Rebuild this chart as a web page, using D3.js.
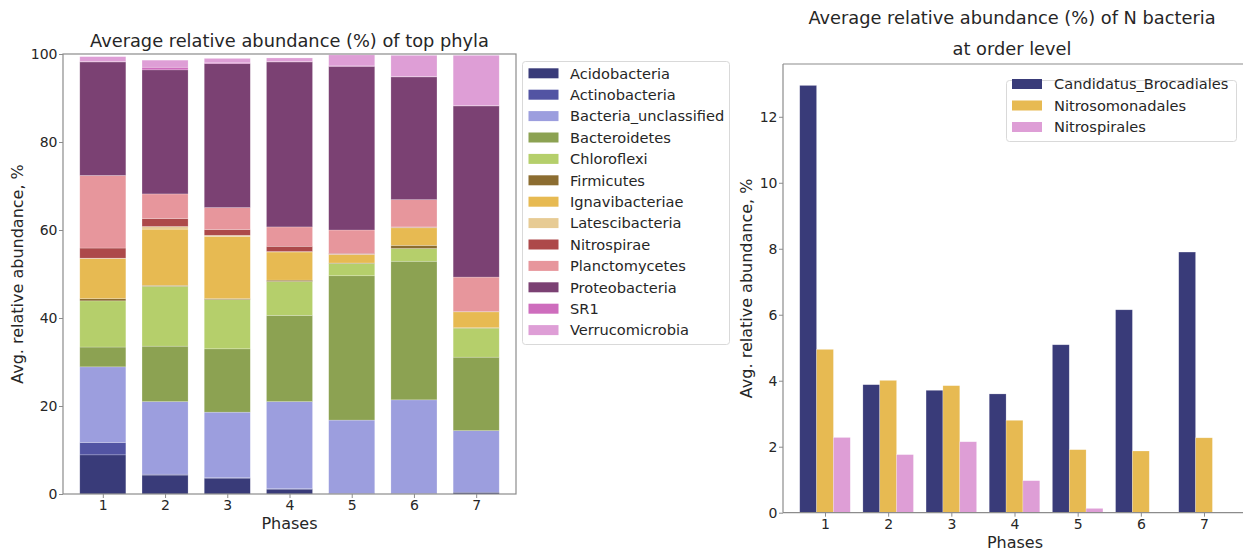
<!DOCTYPE html>
<html>
<head>
<meta charset="utf-8">
<script src="https://cdn.jsdelivr.net/npm/d3@7"></script>
<style>
  html, body { margin: 0; padding: 0; background: #fff; }
  svg { display: block; font-family: "DejaVu Sans", sans-serif; }
</style>
</head>
<body>
<svg id="fig" width="1243" height="554"></svg>
<script>
// ---- Phyla composition per phase (%), stacked in this order ----
const phases = [1, 2, 3, 4, 5, 6, 7];
const phyla = ["Acidobacteria", "Actinobacteria", "Bacteria_unclassified", "Bacteroidetes",
  "Chloroflexi", "Firmicutes", "Ignavibacteriae", "Latescibacteria", "Nitrospirae",
  "Planctomycetes", "Proteobacteria", "SR1", "Verrucomicrobia"];
const phylaColors = ["#393b79", "#5254a3", "#9c9ede", "#8ca252", "#b5cf6b", "#8c6d31",
  "#e7ba52", "#e7cb94", "#ad494a", "#e7969c", "#7b4173", "#ce6dbd", "#de9ed6"];
const acidobacteria        = [8.9, 4.3, 3.6, 1.1, 0.1, 0.1, 0.4];
const actinobacteria       = [2.8, 0.2, 0.1, 0.1, 0.0, 0.0, 0.0];
const bacteriaUnclassified = [17.2, 16.5, 14.9, 19.8, 16.7, 21.3, 14.0];
const bacteroidetes        = [4.5, 12.6, 14.4, 19.6, 32.8, 31.5, 16.7];
const chloroflexi          = [10.5, 13.6, 11.2, 7.7, 2.8, 2.9, 6.6];
const firmicutes           = [0.5, 0.2, 0.2, 0.3, 0.1, 0.7, 0.1];
const ignavibacteriae      = [9.1, 12.8, 14.1, 6.4, 1.9, 4.0, 3.6];
const latescibacteria      = [0.1, 0.6, 0.3, 0.1, 0.1, 0.1, 0.0];
const nitrospirae          = [2.3, 1.8, 1.3, 1.2, 0.2, 0.1, 0.1];
const planctomycetes       = [16.5, 5.6, 5.0, 4.4, 5.3, 6.2, 7.8];
const proteobacteria       = [25.8, 28.2, 32.7, 37.5, 37.2, 27.9, 38.9];
const sr1                  = [0.1, 0.6, 0.2, 0.1, 0.1, 0.1, 0.1];
const verrucomicrobia      = [1.1, 1.6, 1.0, 0.8, 2.5, 4.8, 11.4];
const phylaSeries = [acidobacteria, actinobacteria, bacteriaUnclassified, bacteroidetes,
  chloroflexi, firmicutes, ignavibacteriae, latescibacteria, nitrospirae, planctomycetes,
  proteobacteria, sr1, verrucomicrobia];
const leftTicks = [0, 20, 40, 60, 80, 100];

// ---- N-cycle orders per phase (%) ----
const orders = ["Candidatus_Brocadiales", "Nitrosomonadales", "Nitrospirales"];
const orderColors = ["#393b79", "#e7ba52", "#de9ed6"];
const brocadiales      = [12.95, 3.88, 3.71, 3.60, 5.09, 6.15, 7.90];
const nitrosomonadales = [4.95, 4.01, 3.85, 2.80, 1.91, 1.87, 2.27];
const nitrospirales    = [2.28, 1.76, 2.15, 0.97, 0.13, 0.0, 0.0];
const orderSeries = [brocadiales, nitrosomonadales, nitrospirales];
const rightTicks = [0, 2, 4, 6, 8, 10, 12];

const svg = d3.select("#fig");
const textColor = "#262626";
const spineColor = "#8c8c8c";
const fontTick = 14, fontLegend = 14.6, fontTitle = 17.8, fontLabel = 16;

function styleAxis(g) {
  g.selectAll(".domain").remove();
  g.selectAll(".tick line").attr("stroke", spineColor).attr("stroke-width", 1);
  g.selectAll(".tick text").attr("fill", textColor).attr("font-size", fontTick)
    .attr("font-family", "DejaVu Sans, sans-serif");
}

// ================= Left: stacked bars =================
(function () {
  const L = 63, R = 516, T = 54, B = 494;
  const x = d3.scaleLinear().domain([0.36, 7.64]).range([L, R]);
  const y = d3.scaleLinear().domain([0, 100]).range([B, T]);
  const bw = x(1.74) - x(1);

  const rows = phases.map((p, i) => {
    const r = { phase: p };
    phyla.forEach((name, k) => r[name] = phylaSeries[k][i]);
    return r;
  });
  const stacked = d3.stack().keys(phyla)(rows);

  const g = svg.append("g");
  g.selectAll("g.layer").data(stacked).join("g")
    .attr("fill", (d, k) => phylaColors[k])
    .selectAll("rect").data(d => d).join("rect")
    .attr("x", d => x(d.data.phase) - bw / 2)
    .attr("width", bw)
    .attr("y", d => y(d[1]))
    .attr("height", d => Math.max(0, y(d[0]) - y(d[1])))
    .attr("stroke", "#ffffff").attr("stroke-opacity", 0.35).attr("stroke-width", 0.6);

  // frame
  g.append("rect").attr("x", L).attr("y", T).attr("width", R - L).attr("height", B - T)
    .attr("fill", "none").attr("stroke", spineColor).attr("stroke-width", 1.2);

  const ax = g.append("g").attr("transform", `translate(0,${B})`)
    .call(d3.axisBottom(x).tickValues(phases).tickSize(4).tickPadding(2).tickFormat(d3.format("d")));
  styleAxis(ax);
  const ay = g.append("g").attr("transform", `translate(${L},0)`)
    .call(d3.axisLeft(y).tickValues(leftTicks).tickSize(4).tickPadding(1.5));
  styleAxis(ay);

  g.append("text").attr("x", (L + R) / 2).attr("y", 47).attr("text-anchor", "middle")
    .attr("font-size", fontTitle).attr("fill", textColor)
    .text("Average relative abundance (%) of top phyla");
  g.append("text").attr("x", (L + R) / 2).attr("y", 529).attr("text-anchor", "middle")
    .attr("font-size", fontLabel).attr("fill", textColor).text("Phases");
  g.append("text").attr("transform", `translate(23,${(T + B) / 2}) rotate(-90)`)
    .attr("text-anchor", "middle").attr("font-size", fontLabel).attr("fill", textColor)
    .text("Avg. relative abundance, %");

  // legend
  const lg = g.append("g");
  lg.append("rect").attr("x", 522.5).attr("y", 61.5).attr("width", 207).attr("height", 283)
    .attr("rx", 3).attr("fill", "#fff").attr("stroke", "#d9d9d9");
  phyla.forEach((name, k) => {
    const cy = 73.3 + k * 21.4;
    lg.append("rect").attr("x", 528.5).attr("y", cy - 5).attr("width", 30).attr("height", 10)
      .attr("fill", phylaColors[k]);
    lg.append("text").attr("x", 570).attr("y", cy + 5.2).attr("font-size", fontLegend)
      .attr("fill", textColor).text(name);
  });
})();

// ================= Right: grouped bars =================
(function () {
  const L = 783, R = 1246, T = 64, B = 512.7;
  const x = d3.scaleLinear().domain([0.335, 7.665]).range([L, R]);
  const y = d3.scaleLinear().domain([0, 13.6]).range([B, T]);
  const w = 0.8 / 3;
  const bw = x(1 + w) - x(1);

  const g = svg.append("g");
  orderSeries.forEach((vals, k) => {
    g.append("g").attr("fill", orderColors[k])
      .selectAll("rect").data(phases.map((p, i) => ({ p, v: vals[i] }))).join("rect")
      .attr("x", d => x(d.p + (k - 1) * w) - bw / 2)
      .attr("width", bw)
      .attr("y", d => y(d.v))
      .attr("height", d => y(0) - y(d.v))
      .attr("stroke", "#ffffff").attr("stroke-opacity", 0.35).attr("stroke-width", 0.6);
  });

  g.append("line").attr("x1", L).attr("x2", R).attr("y1", T).attr("y2", T)
    .attr("stroke", spineColor).attr("stroke-width", 1.2);
  g.append("line").attr("x1", L).attr("x2", R).attr("y1", B).attr("y2", B)
    .attr("stroke", spineColor).attr("stroke-width", 1.2);
  g.append("line").attr("x1", L).attr("x2", L).attr("y1", T).attr("y2", B)
    .attr("stroke", spineColor).attr("stroke-width", 1.2);

  const ax = g.append("g").attr("transform", `translate(0,${B})`)
    .call(d3.axisBottom(x).tickValues(phases).tickSize(4).tickPadding(2).tickFormat(d3.format("d")));
  styleAxis(ax);
  const ay = g.append("g").attr("transform", `translate(${L},0)`)
    .call(d3.axisLeft(y).tickValues(rightTicks).tickSize(4).tickPadding(1.5));
  styleAxis(ay);

  const cx = 1012;
  g.append("text").attr("x", cx).attr("y", 24).attr("text-anchor", "middle")
    .attr("font-size", fontTitle).attr("fill", textColor)
    .text("Average relative abundance (%) of N bacteria");
  g.append("text").attr("x", cx).attr("y", 55).attr("text-anchor", "middle")
    .attr("font-size", fontTitle).attr("fill", textColor).text("at order level");
  g.append("text").attr("x", 1015).attr("y", 548).attr("text-anchor", "middle")
    .attr("font-size", fontLabel).attr("fill", textColor).text("Phases");
  g.append("text").attr("transform", `translate(752,${(T + B) / 2}) rotate(-90)`)
    .attr("text-anchor", "middle").attr("font-size", fontLabel).attr("fill", textColor)
    .text("Avg. relative abundance, %");

  const lg = g.append("g");
  lg.append("rect").attr("x", 1006.5).attr("y", 80.5).attr("width", 230).attr("height", 61)
    .attr("rx", 3).attr("fill", "#fff").attr("stroke", "#d9d9d9");
  orders.forEach((name, k) => {
    const cy = 84 + k * 21.5;
    lg.append("rect").attr("x", 1012).attr("y", cy - 5).attr("width", 30).attr("height", 10)
      .attr("fill", orderColors[k]);
    lg.append("text").attr("x", 1054).attr("y", cy + 5.2).attr("font-size", fontLegend)
      .attr("fill", textColor).text(name);
  });
})();
</script>
</body>
</html>
